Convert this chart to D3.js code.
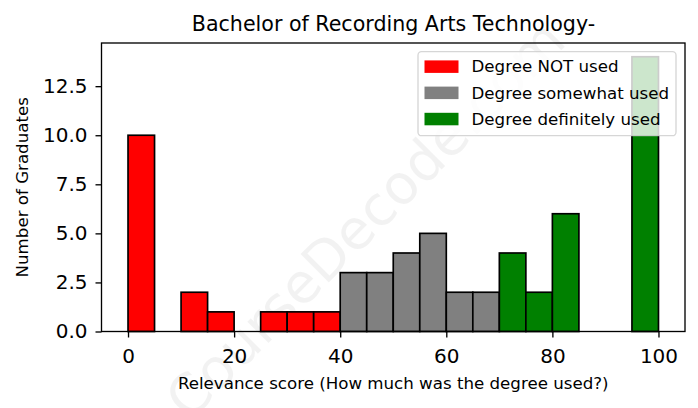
<!DOCTYPE html>
<html><head><meta charset="utf-8">
<script src="https://cdn.jsdelivr.net/npm/d3@7"></script>
<style>body{margin:0;background:#fff}svg{display:block}text{font-family:"DejaVu Sans",sans-serif}</style>
</head><body>
<script>
const binEdges = [0,5,10,15,20,25,30,35,40,45,50,55,60,65,70,75,80,85,90,95,100];
const counts = [10,0,2,1,0,1,1,1,3,3,4,5,2,2,4,2,6,0,0,14];
const categories = ["Degree NOT used","Degree somewhat used","Degree definitely used"];
const categoryColors = ["#ff0000","#808080","#008000"];
const categoryBreaks = [40,70];
const xTicks = [0,20,40,60,80,100];
const yTicks = [0,2.5,5,7.5,10,12.5];

const W=698,H=408;
const m={l:101.5,r:685,t:43,b:331.5};
const svg=d3.select("body").append("svg").attr("width",W).attr("height",H);
const x=d3.scaleLinear().domain([-5,105]).range([m.l,m.r]);
const y=d3.scaleLinear().domain([0,14.7]).range([m.b,m.t]);

function cat(v){return v<categoryBreaks[0]?0:(v<categoryBreaks[1]?1:2);}

// watermark
svg.append("text").attr("transform","translate(368,222) rotate(-45)")
 .attr("text-anchor","middle").attr("dominant-baseline","middle")
 .style("font-size","55px").attr("fill","#000").attr("fill-opacity",0.05)
 .text("CourseDecode.com");

// bars
const bins=counts.map((c,i)=>({x0:binEdges[i],x1:binEdges[i+1],c}));
svg.append("g").selectAll("rect").data(bins).join("rect")
 .attr("x",d=>x(d.x0)).attr("width",d=>x(d.x1)-x(d.x0))
 .attr("y",d=>y(d.c)).attr("height",d=>y(0)-y(d.c))
 .attr("fill",d=>categoryColors[cat(d.x0)]).attr("stroke","#000").attr("stroke-width",1.67);

// axes
const sw=1.33;
const gx=svg.append("g").attr("transform",`translate(0,${m.b})`)
 .call(d3.axisBottom(x).tickValues(xTicks).tickFormat(d3.format("d")).tickSize(6).tickPadding(6));
const gy=svg.append("g").attr("transform",`translate(${m.l},0)`)
 .call(d3.axisLeft(y).tickValues(yTicks).tickFormat(d3.format(".1f")).tickSize(6).tickPadding(8));
[gx,gy].forEach(g=>{g.select(".domain").remove();
 g.selectAll(".tick line").attr("stroke","#000").attr("stroke-width",sw);
 g.selectAll(".tick text").attr("fill","#000").style("font-size","20px").style("font-family","DejaVu Sans");});
gx.selectAll(".tick text").attr("y",31.2).attr("dy",0);
// spines
svg.append("rect").attr("x",m.l).attr("y",m.t).attr("width",m.r-m.l).attr("height",m.b-m.t)
 .attr("fill","none").attr("stroke","#000").attr("stroke-width",sw);

// legend
const fs=16.67;
const lg=svg.append("g");
lg.append("rect").attr("x",418).attr("y",51.7).attr("width",258).attr("height",84).attr("rx",3.5)
 .attr("fill","#fff").attr("fill-opacity",0.8).attr("stroke","#cccccc").attr("stroke-opacity",0.8).attr("stroke-width",1.33);
categories.forEach((c,i)=>{
 const cy=66.4+i*26.2;
 lg.append("rect").attr("x",424.5).attr("y",cy-6).attr("width",34).attr("height",12.5).attr("fill",categoryColors[i]);
 lg.append("text").attr("x",471.5).attr("y",cy).attr("dy","0.36em").style("font-size",fs+"px").text(c);
});

// titles
svg.append("text").attr("x",393.5).attr("y",30.7).attr("text-anchor","middle").style("font-size","20.6px").text("Bachelor of Recording Arts Technology-");
svg.append("text").attr("x",(m.l+m.r)/2).attr("y",389).attr("text-anchor","middle").style("font-size",fs+"px").text("Relevance score (How much was the degree used?)");
svg.append("text").attr("transform",`translate(28,${(m.t+m.b)/2}) rotate(-90)`).attr("text-anchor","middle").style("font-size",fs+"px").text("Number of Graduates");
</script>
</body></html>
